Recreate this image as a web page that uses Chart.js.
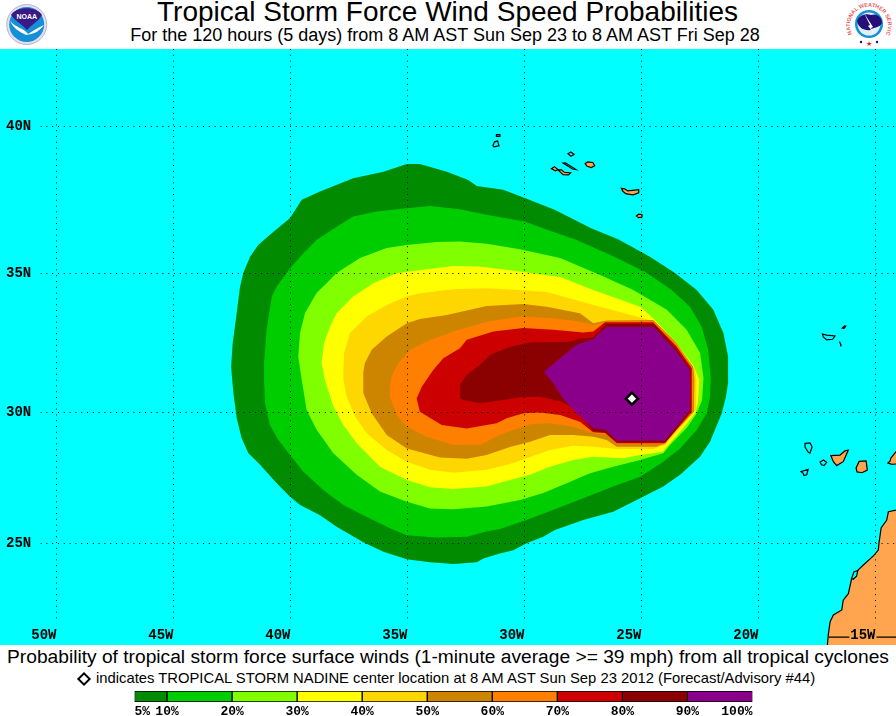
<!DOCTYPE html>
<html>
<head>
<meta charset="utf-8">
<title>Tropical Storm Force Wind Speed Probabilities</title>
<script src="https://cdn.jsdelivr.net/npm/chart.js@4/dist/chart.umd.min.js"></script>
<style>
    html, body { margin: 0; padding: 0; background: #fff; }
    #page { position: relative; width: 896px; height: 716px; overflow: hidden; font-family: "Liberation Sans", sans-serif; color: #000; }
    #page div, #page canvas, #page svg { position: absolute; }
    .line { left: 0; width: 896px; text-align: center; white-space: nowrap; }
    #title { top: -4px; font-size: 28px; line-height: 32px; left: -0.5px; }
    #subtitle { top: 24px; font-size: 18px; line-height: 22px; left: -3px; }
    #note1 { top: 646px; font-size: 19.2px; line-height: 22px; left: 0; }
    #note2 { top: 670px; left: 96px; width: auto; font-size: 14.8px; line-height: 17px; }
    #diamond { left: 79px; top: 674px; width: 6px; height: 6px; background: #fff; border: 2px solid #000; transform: rotate(45deg); }
    #map { left: 0; top: 49px; }
    #scale { left: 0; top: 688px; }
</style>
</head>
<body>
<div id="page">
    <div class="line" id="title">Tropical Storm Force Wind Speed Probabilities</div>
    <div class="line" id="subtitle">For the 120 hours (5 days) from 8 AM AST Sun Sep 23 to 8 AM AST Fri Sep 28</div>

    <svg style="left:4px;top:2px" width="46" height="46" viewBox="0 0 46 46">
        <circle cx="22.7" cy="22.5" r="20" fill="#e4e0ee" stroke="#b9b2d2" stroke-width="1"/>
        <circle cx="22.7" cy="22.5" r="17.5" fill="#1490d6"/>
        <path d="M7 13 C12 4 33 4 38 13 C35 19 28 22 23 28 C18 22 11 19 7 13Z" fill="#3a1a86"/>
        <path d="M6 19 C12 26 20 26 24 32 C29 29 33 26 40 23 C34 31 28 32 22 33 C16 30 10 27 6 19Z" fill="#fff"/>
        <text x="22.7" y="17" font-size="7" font-weight="bold" fill="#fff" text-anchor="middle" font-family="Liberation Sans">NOAA</text>
    </svg>

    <svg style="left:846px;top:1px" width="46" height="46" viewBox="0 0 46 46">
        <defs><path id="ring" d="M6 33 A19 19 0 1 1 40 33"/></defs>
        <text font-size="5.4" font-weight="bold" fill="#e8585c" font-family="Liberation Sans"><textPath href="#ring">NATIONAL WEATHER SERVICE</textPath></text>
        <circle cx="23" cy="23" r="14" fill="#1490d6"/>
        <circle cx="23" cy="23" r="11.5" fill="#dff1fb"/>
        <path d="M11 20 C13 14 20 12 25 14 C31 12 36 16 36 22 C34 27 28 26 24 29 C19 30 12 27 11 20Z" fill="#25107a"/>
        <path d="M18 12 L27 26 L25 27 L29 33 L22 25 L24 24Z" fill="#fff"/>
        <text x="23" y="45" font-size="7" fill="#d8202a" text-anchor="middle" font-family="Liberation Sans">★</text>
        <circle cx="15" cy="41" r="1.2" fill="#25107a"/>
        <circle cx="31" cy="41" r="1.2" fill="#25107a"/>
    </svg>

    <canvas id="map" width="896" height="596"></canvas>

    <div class="line" id="note1">Probability of tropical storm force surface winds (1-minute average &gt;= 39 mph) from all tropical cyclones</div>
    <div id="diamond"></div>
    <div class="line" id="note2">indicates TROPICAL STORM NADINE center location at 8 AM AST Sun Sep 23 2012 (Forecast/Advisory #44)</div>

    <canvas id="scale" width="896" height="28"></canvas>
</div>

<script>
// map axes
const lonTicks = [-50, -45, -40, -35, -30, -25, -20, -15];
const latTicks = [25, 30, 35, 40];
const lonRange = [-52.415, -14.124];
const latRange = [20.89, 42.52];

// probability areas as [lon, lat] rings
const prob5 = [[-42.54,31.66],[-42.47,32.53],[-42.30,33.60],[-42.16,34.52],[-42.02,35.01],[-41.73,35.57],[-41.38,35.98],[-40.88,36.33],[-40.02,36.91],[-39.52,37.53],[-38.74,37.81],[-37.32,38.26],[-36.03,38.48],[-35.03,38.74],[-34.47,38.74],[-33.32,38.48],[-32.40,38.20],[-32.04,38.00],[-30.91,37.87],[-29.99,37.59],[-28.71,37.19],[-27.15,36.56],[-26.00,36.18],[-24.64,35.57],[-23.57,35.01],[-22.64,34.41],[-21.93,33.71],[-21.50,32.88],[-21.30,32.04],[-21.30,31.08],[-21.39,30.57],[-21.57,29.96],[-22.07,28.90],[-22.50,28.34],[-23.35,27.65],[-24.07,27.20],[-25.06,26.75],[-26.21,26.23],[-27.49,25.91],[-28.70,25.52],[-29.20,25.26],[-29.91,25.00],[-30.48,24.73],[-31.05,24.60],[-31.76,24.40],[-32.04,24.25],[-33.04,24.18],[-34.04,24.25],[-35.03,24.37],[-36.03,24.67],[-36.89,25.04],[-38.03,25.65],[-38.74,26.10],[-39.59,26.49],[-40.02,26.81],[-40.59,27.33],[-41.30,28.03],[-41.80,28.47],[-42.09,29.03],[-42.30,29.78],[-42.44,30.70]];
const prob10 = [[-41.13,31.81],[-41.02,33.00],[-40.80,34.18],[-40.59,34.53],[-40.02,35.17],[-39.45,35.69],[-38.88,36.16],[-38.03,36.61],[-37.32,36.96],[-36.32,37.13],[-35.03,37.24],[-34.04,37.32],[-32.76,37.21],[-31.62,37.02],[-29.99,36.79],[-29.00,36.50],[-27.85,36.18],[-26.35,35.64],[-24.85,35.05],[-23.71,34.41],[-22.93,33.82],[-22.43,33.11],[-22.15,32.28],[-22.04,31.26],[-22.07,30.57],[-22.21,29.96],[-22.64,29.34],[-23.35,28.65],[-24.07,28.15],[-25.06,27.58],[-26.21,27.20],[-27.49,26.75],[-28.62,26.36],[-29.91,25.91],[-31.05,25.56],[-31.62,25.46],[-32.47,25.26],[-33.75,25.23],[-35.03,25.32],[-35.75,25.59],[-36.89,26.10],[-37.74,26.49],[-38.60,27.07],[-39.45,27.77],[-40.02,28.40],[-40.52,28.97],[-40.88,29.53],[-41.09,30.34],[-41.13,31.19]];
const prob20 = [[-39.67,32.04],[-39.59,32.89],[-39.38,33.60],[-38.88,34.31],[-38.45,34.66],[-38.03,35.01],[-37.03,35.53],[-35.89,35.88],[-35.03,35.98],[-33.75,36.08],[-32.76,36.10],[-31.62,36.02],[-30.19,35.83],[-28.48,35.53],[-26.77,34.94],[-25.35,34.41],[-23.92,33.71],[-23.07,33.00],[-22.50,32.17],[-22.35,31.26],[-22.41,30.45],[-22.64,29.96],[-23.07,29.41],[-23.78,28.78],[-24.07,28.47],[-25.06,28.21],[-26.21,27.96],[-27.20,27.71],[-28.20,27.33],[-29.20,26.95],[-30.19,26.69],[-31.62,26.43],[-33.04,26.33],[-34.04,26.36],[-35.03,26.62],[-36.18,27.01],[-37.17,27.65],[-38.17,28.47],[-38.88,29.34],[-39.31,30.08],[-39.52,31.19]];
const prob30 = [[-38.67,31.80],[-38.57,32.52],[-38.31,33.11],[-38.03,33.59],[-37.32,34.18],[-36.46,34.65],[-35.46,35.00],[-34.18,35.14],[-33.04,35.25],[-31.90,35.23],[-30.19,35.06],[-28.48,34.87],[-27.06,34.41],[-25.06,33.82],[-24.50,33.41],[-23.64,32.64],[-22.79,31.73],[-22.53,31.19],[-22.59,30.34],[-22.71,29.96],[-23.21,29.41],[-23.92,28.71],[-24.08,28.52],[-25.06,28.40],[-25.78,28.28],[-27.06,28.34],[-27.91,28.21],[-28.91,27.96],[-29.76,27.65],[-30.62,27.45],[-31.62,27.20],[-33.04,27.11],[-34.04,27.18],[-35.03,27.45],[-36.18,27.96],[-37.17,28.84],[-37.74,29.53],[-38.17,30.21],[-38.53,31.19]];
const prob40 = [[-37.74,31.55],[-37.71,32.16],[-37.46,32.88],[-36.74,33.47],[-35.89,33.88],[-35.03,34.18],[-34.47,34.30],[-33.04,34.44],[-31.62,34.47],[-30.19,34.41],[-29.05,34.34],[-26.77,33.82],[-24.64,33.35],[-23.78,32.64],[-22.71,31.55],[-22.65,31.19],[-22.67,30.09],[-23.35,29.41],[-24.00,28.78],[-24.50,28.63],[-26.06,28.63],[-27.06,28.71],[-27.91,28.75],[-28.91,28.59],[-29.91,28.28],[-30.62,28.06],[-31.62,27.84],[-33.04,27.73],[-34.04,27.84],[-35.03,28.15],[-35.89,28.59],[-36.74,29.22],[-37.24,29.84],[-37.60,30.57],[-37.74,31.19]];
const prob50 = [[-36.89,31.49],[-36.82,31.80],[-36.53,32.28],[-35.89,32.76],[-35.03,33.23],[-34.47,33.38],[-33.32,33.53],[-31.62,33.85],[-30.05,33.92],[-29.05,33.82],[-27.63,33.59],[-27.06,33.23],[-26.49,33.33],[-24.50,33.35],[-23.64,32.64],[-22.79,31.67],[-22.74,31.19],[-22.76,30.02],[-23.50,29.34],[-24.00,28.84],[-24.35,28.71],[-26.06,28.71],[-26.49,28.97],[-27.06,29.09],[-27.91,29.15],[-28.91,29.15],[-29.76,28.90],[-30.62,28.70],[-31.62,28.40],[-32.47,28.26],[-33.61,28.31],[-35.03,28.65],[-35.89,29.15],[-36.53,29.96],[-36.89,30.70],[-36.89,31.19]];
const prob60 = [[-35.75,30.88],[-35.68,31.31],[-35.39,31.80],[-34.89,32.28],[-34.18,32.58],[-33.04,32.94],[-31.62,33.29],[-30.19,33.47],[-28.77,33.41],[-27.63,33.29],[-27.06,33.17],[-26.49,33.29],[-24.50,33.32],[-23.50,32.52],[-22.81,31.61],[-22.80,31.19],[-22.81,30.02],[-23.57,29.34],[-24.07,28.80],[-26.06,28.80],[-26.49,29.15],[-27.06,29.22],[-27.91,29.46],[-28.91,29.59],[-29.76,29.55],[-30.48,29.34],[-31.05,29.15],[-31.90,28.78],[-33.04,28.78],[-34.18,29.09],[-35.03,29.46],[-35.46,29.90],[-35.75,30.57]];
const prob70 = [[-34.61,30.51],[-34.39,30.94],[-33.90,31.55],[-33.47,31.98],[-32.76,32.34],[-32.47,32.64],[-31.33,32.94],[-30.05,33.06],[-28.77,33.00],[-27.49,32.90],[-27.06,32.94],[-26.56,33.27],[-24.50,33.27],[-23.50,32.40],[-22.85,31.61],[-22.85,30.02],[-24.00,28.84],[-26.06,28.84],[-26.56,29.23],[-27.07,29.26],[-27.63,29.65],[-28.48,29.90],[-29.34,29.99],[-30.05,29.96],[-30.76,29.78],[-31.19,29.59],[-32.47,29.40],[-33.54,29.53],[-34.47,30.02]];
const prob80 = [[-32.76,30.51],[-32.76,31.00],[-32.47,31.37],[-31.90,31.74],[-31.47,32.10],[-30.62,32.39],[-29.76,32.54],[-28.06,32.57],[-27.63,32.69],[-27.06,32.72],[-26.52,33.21],[-24.47,33.21],[-23.53,32.34],[-22.90,31.57],[-22.90,30.06],[-23.97,28.88],[-26.03,28.88],[-26.56,29.26],[-27.07,29.30],[-27.77,30.08],[-28.41,30.39],[-29.34,30.57],[-30.19,30.55],[-30.91,30.45],[-31.90,30.33],[-32.62,30.45]];
const prob90 = [[-29.17,31.49],[-28.48,31.98],[-27.77,32.46],[-27.06,32.67],[-26.49,33.11],[-24.50,33.11],[-23.57,32.28],[-22.93,31.55],[-22.93,30.08],[-24.00,28.94],[-26.06,28.94],[-26.52,29.34],[-27.06,29.41],[-27.77,29.96],[-28.41,30.57],[-28.77,31.07]];
const probRings = [prob5, prob10, prob20, prob30, prob40, prob50, prob60, prob70, prob80, prob90];
const probColors = ['#008B00', '#00CD00', '#7FFF00', '#FFFF00', '#FFD700', '#CD8500', '#FF7F00', '#CD0000', '#8B0000', '#8B008B'];

// storm center
const centerLon = [-25.41];
const centerLat = [30.5];

// land
const africa = [[-13.5,26.43],[-14.45,26.23],[-14.52,25.91],[-14.76,25.60],[-14.85,25.01],[-14.88,24.73],[-15.09,24.50],[-15.52,24.14],[-15.78,23.91],[-16.02,23.60],[-16.16,22.99],[-16.38,22.73],[-16.44,22.33],[-16.80,22.13],[-16.94,21.85],[-17.02,21.30],[-17.09,20.5],[-13.5,20.5]];
const terceira = [[-27.41,38.75],[-27.30,38.81],[-27.08,38.79],[-27.00,38.68],[-27.15,38.62],[-27.32,38.66]];
const faial = [[-28.85,38.58],[-28.72,38.65],[-28.57,38.55],[-28.68,38.51]];
const pico = [[-28.57,38.54],[-28.42,38.54],[-28.30,38.46],[-28.03,38.44],[-28.12,38.37],[-28.35,38.38]];
const saoMiguel = [[-25.86,37.92],[-25.72,37.90],[-25.58,37.83],[-25.12,37.87],[-25.12,37.77],[-25.36,37.70],[-25.65,37.73],[-25.79,37.81]];
const santaMaria = [[-25.22,36.98],[-25.12,37.04],[-24.98,37.02],[-24.98,36.94],[-25.12,36.92]];
const tenerife = [[-16.91,28.38],[-16.52,28.40],[-16.30,28.56],[-16.16,28.59],[-16.38,28.15],[-16.66,28.00],[-16.80,28.15]];
const granCanaria = [[-15.83,27.91],[-15.70,28.16],[-15.40,28.18],[-15.35,27.83],[-15.58,27.73],[-15.79,27.76]];
const fuerteventura = [[-13.5,28.60],[-14.12,28.53],[-14.34,28.29],[-14.38,28.17],[-14.47,28.10],[-14.30,28.05],[-13.5,28.10]];
const landRings = [africa, terceira, faial, pico, saoMiguel, santaMaria, tenerife, granCanaria, fuerteventura];

// islands drawn as an outline only
const flores = [[-31.35,39.35],[-31.28,39.48],[-31.15,39.51],[-31.09,39.35],[-31.30,39.31]];
const corvo = [[-31.20,39.72],[-31.05,39.72],[-31.05,39.66],[-31.20,39.66]];
const graciosa = [[-28.14,39.08],[-28.02,39.14],[-27.88,39.06],[-28.02,39.00]];
const saoJorge = [[-28.35,38.77],[-28.25,38.78],[-27.79,38.55],[-27.95,38.57]];
const madeira = [[-17.27,32.85],[-17.09,32.81],[-16.73,32.78],[-16.83,32.66],[-17.09,32.64],[-17.23,32.74]];
const portoSanto = [[-16.42,33.06],[-16.32,33.14],[-16.27,33.13],[-16.34,33.05]];
const laPalma = [[-18.01,28.84],[-17.80,28.86],[-17.71,28.71],[-17.80,28.47],[-17.87,28.50],[-18.01,28.69]];
const gomera = [[-17.37,28.14],[-17.22,28.21],[-17.09,28.12],[-17.20,28.00],[-17.31,28.03]];
const hierro = [[-18.18,27.77],[-17.88,27.86],[-17.94,27.65],[-18.06,27.62],[-18.09,27.71]];
const dakhla = [[-16.02,23.60],[-15.92,23.87],[-15.76,23.91],[-15.81,23.69],[-15.95,23.57]];
const outlineRings = [flores, corvo, graciosa, saoJorge, madeira, portoSanto, laPalma, gomera, hierro, dakhla];

// open lines
const desertas = [[-16.54,32.58],[-16.50,32.50],[-16.48,32.40]];
const border = [[-17.00,21.22],[-13.5,21.22]];

// colour scale
const scaleEdges = [5, 10, 20, 30, 40, 50, 60, 70, 80, 90, 100];

const SEA = '#00FFFF';
const LAND = '#FFA54F';

// the map projection spreads the latitudes towards the north
function north(lat) {
    const t = lat - 30;
    return 27 * t + 0.16 * t * t;
}

function toPoints(ring) {
    return ring.map(p => ({ x: p[0], y: north(p[1]) }));
}

// rings are closed shapes, so fill them whole instead of clipping to first/last x
const closeRings = {
    id: 'closeRings',
    beforeDatasetsDraw(chart) {
        chart.getSortedVisibleDatasetMetas().forEach(meta => {
            if (meta.controller.getDataset().fill) {
                meta.dataset._loop = true;
                delete meta.dataset._segments;
            }
        });
    }
};

function ringDataset(ring, fillColor, lineColor, lineWidth, order) {
    return {
        data: toPoints(ring),
        showLine: true,
        fill: 'shape',
        spanGaps: true,
        tension: 0,
        pointRadius: 0,
        backgroundColor: fillColor,
        borderColor: lineColor,
        borderWidth: lineWidth,
        order: order
    };
}

function lineDataset(ring) {
    return {
        data: toPoints(ring),
        showLine: true,
        fill: false,
        pointRadius: 0,
        borderColor: '#000',
        borderWidth: 1.2,
        order: 2
    };
}

const datasets = [];
probRings.forEach((ring, i) => datasets.push(ringDataset(ring, probColors[i], 'rgba(0,0,0,0)', 0, 100 - i)));
landRings.forEach(ring => datasets.push(ringDataset(ring, LAND, '#000', 1.2, 50)));
outlineRings.forEach(ring => datasets.push(ringDataset(ring, ring === portoSanto ? '#000' : SEA, '#000', 1.2, 40)));
datasets.push(lineDataset(desertas));
datasets.push(lineDataset(border));
datasets.push({
    data: centerLon.map((lon, i) => ({ x: lon, y: north(centerLat[i]) })),
    pointStyle: 'rectRot',
    pointRadius: 6,
    pointBackgroundColor: '#fff',
    pointBorderColor: '#000',
    pointBorderWidth: 2.5,
    order: 0
});

const tickFont = { family: '"Liberation Mono"', size: 14, weight: 'bold' };

new Chart(document.getElementById('map'), {
    type: 'scatter',
    data: { datasets: datasets },
    plugins: [closeRings],
    options: {
        responsive: false,
        animation: false,
        devicePixelRatio: 1,
        events: [],
        layout: { padding: 0, autoPadding: false },
        plugins: { legend: { display: false }, tooltip: { enabled: false }, title: { display: false } },
        scales: {
            x: {
                type: 'linear',
                min: lonRange[0],
                max: lonRange[1],
                afterBuildTicks: s => { s.ticks = lonTicks.map(v => ({ value: v })); },
                afterFit: s => { s.height = 0; s.paddingLeft = 0; s.paddingRight = 0; },
                grid: { color: '#000', lineWidth: 1, drawTicks: false, z: 1 },
                border: { display: false, dash: [1, 4.8] },
                ticks: {
                    z: 2,
                    mirror: true,
                    align: 'end',
                    padding: 1,
                    autoSkip: false,
                    maxRotation: 0,
                    color: '#000',
                    font: tickFont,
                    showLabelBackdrop: true,
                    backdropColor: ctx => (ctx.tick && ctx.tick.value === -15 ? LAND : SEA),
                    backdropPadding: { top: 4, bottom: 2, left: 1, right: 1 },
                    callback: v => Math.abs(v) + 'W'
                }
            },
            y: {
                type: 'linear',
                min: north(latRange[0]),
                max: north(latRange[1]),
                afterBuildTicks: s => { s.ticks = latTicks.map(v => ({ value: north(v) })); },
                afterFit: s => { s.width = 0; s.paddingTop = 0; s.paddingBottom = 0; },
                grid: { color: '#000', lineWidth: 1, drawTicks: false, z: 1 },
                border: { display: false, dash: [1, 4.8] },
                ticks: {
                    z: 2,
                    mirror: true,
                    padding: 6,
                    autoSkip: false,
                    color: '#000',
                    font: tickFont,
                    showLabelBackdrop: true,
                    backdropColor: SEA,
                    backdropPadding: { top: 2, bottom: 2, left: 6, right: 9 },
                    callback: (v, i) => latTicks[i] + 'N'
                }
            }
        }
    }
});
document.getElementById('map').style.background = SEA;

// colour bar under the map
const scaleBands = probColors.map((c, i) => ({
    data: [[scaleEdges[i], scaleEdges[i + 1]]],
    backgroundColor: c,
    borderColor: '#000',
    borderWidth: 1,
    borderSkipped: false,
    grouped: false,
    barPercentage: 1,
    categoryPercentage: 1
}));

new Chart(document.getElementById('scale'), {
    type: 'bar',
    data: { labels: ['prob'], datasets: scaleBands },
    options: {
        indexAxis: 'y',
        responsive: false,
        animation: false,
        devicePixelRatio: 1,
        events: [],
        layout: { padding: { left: 134.5, right: 143.5, top: 3, bottom: 0 }, autoPadding: false },
        plugins: { legend: { display: false }, tooltip: { enabled: false } },
        scales: {
            y: { display: false },
            x: {
                type: 'linear',
                min: scaleEdges[0],
                max: scaleEdges[scaleEdges.length - 1],
                afterBuildTicks: s => { s.ticks = scaleEdges.map(v => ({ value: v })); },
                afterFit: s => { s.height = 14; },
                grid: { display: false, drawTicks: false },
                border: { display: false },
                ticks: {
                    align: 'inner',
                    padding: 2,
                    autoSkip: false,
                    maxRotation: 0,
                    color: '#000',
                    font: { family: '"Liberation Mono"', size: 13, weight: 'bold' },
                    callback: v => v + '%'
                }
            }
        }
    }
});
</script>
</body>
</html>
